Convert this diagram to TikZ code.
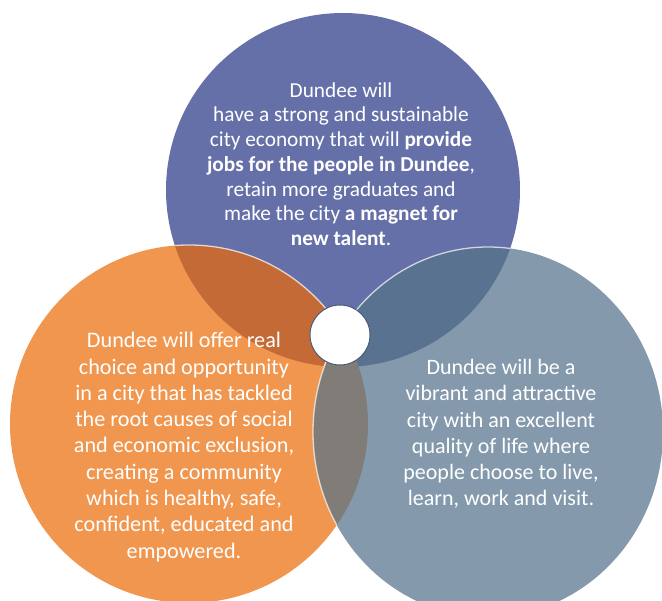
\documentclass[tikz,border=0pt]{standalone}
\usepackage{fontspec}
\setmainfont{Carlito}
\usetikzlibrary{calc}

\definecolor{goalpurple}{RGB}{102,112,168}
\definecolor{goalorange}{RGB}{240,150,78}
\definecolor{goalblue}{RGB}{132,153,172}
\definecolor{lensorange}{RGB}{196,106,54}
\definecolor{lensblue}{RGB}{88,114,144}
\definecolor{lensgrey}{RGB}{128,125,120}
\definecolor{hubrim}{RGB}{72,92,122}

\tikzset{
  goaltext/.style={text=white, align=center, inner sep=0pt},
  rim/.style={draw=white, draw opacity=0.7, line width=1.3pt},
}

\begin{document}
\begin{tikzpicture}[x=1pt, y=-1pt]
    \useasboundingbox (0,0) rectangle (662,601);

    \coordinate (E) at (343,190);
    \coordinate (S) at (189,424);
    \coordinate (Q) at (488,432);

    \fill[goalpurple] (E) circle[radius=177pt];
    \fill[goalorange] (S) circle[radius=179pt];
    \begin{scope}
      \clip (E) circle[radius=177pt];
      \fill[lensorange] (S) circle[radius=179pt];
      \draw[rim] (S) circle[radius=179pt];
    \end{scope}

    \fill[goalblue] (Q) ellipse[x radius=175pt, y radius=185pt];
    \begin{scope}
      \clip (E) circle[radius=177pt];
      \fill[lensblue] (Q) ellipse[x radius=175pt, y radius=185pt];
      \draw[rim] (Q) ellipse[x radius=175pt, y radius=185pt];
    \end{scope}
    \begin{scope}
      \clip (S) circle[radius=179pt];
      \fill[lensgrey] (Q) ellipse[x radius=175pt, y radius=185pt];
      \draw[rim] (Q) ellipse[x radius=175pt, y radius=185pt];
    \end{scope}

    \node[circle, fill=white, draw=hubrim, line width=1pt, minimum size=60pt, inner sep=0pt] (hub) at (340,335) {};

    \node[goaltext, font=\fontsize{21.3}{24.7}\selectfont] (economy) at (341,164)
      {Dundee will\\
       have a strong and sustainable\\
       city economy that will \textbf{provide}\\
       \textbf{jobs for the people in Dundee},\\
       retain more graduates and\\
       make the city \textbf{a magnet for}\\
       \textbf{new talent}.};

    \node[goaltext, font=\fontsize{22.2}{26.3}\selectfont] (social) at (184,447)
      {Dundee will offer real\\
       choice and opportunity\\
       in a city that has tackled\\
       the root causes of social\\
       and economic exclusion,\\
       creating a community\\
       which is healthy, safe,\\
       confident, educated and\\
       empowered.};

    \node[goaltext, font=\fontsize{22}{26.3}\selectfont] (quality) at (501,434)
      {Dundee will be a\\
       vibrant and attractive\\
       city with an excellent\\
       quality of life where\\
       people choose to live,\\
       learn, work and visit.};

\end{tikzpicture}
\end{document}
